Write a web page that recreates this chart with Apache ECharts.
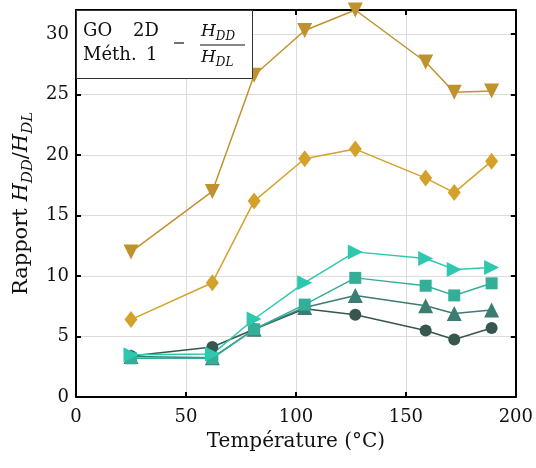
<!DOCTYPE html>
<html>
<head>
<meta charset="utf-8">
<script src="https://cdn.jsdelivr.net/npm/echarts@6/dist/echarts.min.js"></script>
<style>html,body{margin:0;padding:0;background:#fff}#c{width:536px;height:468px}</style>
</head>
<body>
<div id="c"></div>
<script>
const temps = [25, 62, 81, 104, 127, 159, 172, 189];
const seriesDownTri = [12.0, 17.0, 26.6, 30.3, 32.0, 27.7, 25.2, 25.3];
const seriesDiamond = [6.4, 9.45, 16.2, 19.7, 20.5, 18.1, 16.9, 19.5];
const seriesCircle = [3.4, 4.13, 5.6, 7.3, 6.8, 5.5, 4.75, 5.7];
const seriesUpTri = [3.35, 3.25, 5.6, 7.4, 8.4, 7.55, 6.9, 7.2];
const seriesSquare = [3.2, 3.2, 5.6, 7.64, 9.85, 9.2, 8.4, 9.4];
const seriesRightTri = [3.5, 3.55, 6.45, 9.45, 12.0, 11.45, 10.55, 10.7];
const xTicks = [0, 50, 100, 150, 200];
const yTicks = [0, 5, 10, 15, 20, 25, 30];

const FONT = 'DejaVu Serif';
const TXT = '#111';
const chart = echarts.init(document.getElementById('c'), null, {renderer: 'canvas'});
const pair = arr => temps.map((t, i) => [t, arr[i]]);
function mk(name, data, color, symbol, size, rot) {
  return {
    name, type: 'line', data: pair(data), symbol, symbolSize: size, symbolRotate: rot || 0,
    lineStyle: {color, width: 1.5}, itemStyle: {color}, clip: false,
    emphasis: {disabled: true}, animation: false
  };
}
const axisCommon = () => ({
  axisLine: {show: true, onZero: false, lineStyle: {color: '#000', width: 2}},
  axisTick: {show: true, inside: true, length: 5, lineStyle: {color: '#000', width: 2}},
});
const subRich = (size) => ({
  n: {fontFamily: FONT, fontSize: size, color: TXT, lineHeight: 28, verticalAlign: 'middle'},
  i: {fontFamily: FONT, fontSize: size, fontStyle: 'italic', color: TXT, lineHeight: 28, verticalAlign: 'middle'},
  s: {fontFamily: FONT, fontSize: Math.round(size * 0.72), fontStyle: 'italic', color: TXT, lineHeight: 28, verticalAlign: 'bottom'}
});
chart.setOption({
  animation: false,
  grid: {left: 76, right: 20, top: 10, bottom: 71, show: false},
  xAxis: [
    Object.assign({
      type: 'value', min: 0, max: 200, interval: 50,
      name: 'Température (°C)', nameLocation: 'middle', nameGap: 35,
      nameTextStyle: {fontFamily: FONT, fontSize: 20, color: TXT},
      axisLabel: {fontFamily: FONT, fontSize: 18, color: TXT, margin: 11,
        formatter: v => xTicks.includes(v) ? String(v) : ''},
      splitLine: {show: true, lineStyle: {color: '#dcdcdc', width: 1}}
    }, axisCommon()),
    Object.assign({type: 'value', min: 0, max: 200, interval: 50, position: 'top',
      axisLabel: {show: false}, splitLine: {show: false}}, axisCommon())
  ],
  yAxis: [
    Object.assign({
      type: 'value', min: 0, max: 32, interval: 5,
      name: '{n|Rapport }{i|H}{s|DD}{n|/}{i|H}{s|DL}', nameLocation: 'middle', nameGap: 38, nameRotate: 90,
      nameTextStyle: {fontFamily: FONT, fontSize: 21, color: TXT, rich: subRich(21)},
      axisLabel: {fontFamily: FONT, fontSize: 18, color: TXT, margin: 7, showMaxLabel: false,
        formatter: v => yTicks.includes(v) ? String(v) : ''},
      splitLine: {show: true, lineStyle: {color: '#dcdcdc', width: 1}}
    }, axisCommon()),
    Object.assign({type: 'value', min: 0, max: 32, interval: 5, position: 'right',
      axisLabel: {show: false}, splitLine: {show: false}}, axisCommon())
  ],
  series: [
    mk('down', seriesDownTri, '#BF922F', 'triangle', 15, 180),
    mk('diamond', seriesDiamond, '#D4A22A', 'diamond', [13, 17]),
    mk('circle', seriesCircle, '#37564F', 'circle', 12),
    mk('up', seriesUpTri, '#3B7D73', 'triangle', 15),
    mk('square', seriesSquare, '#35AE98', 'rect', 12),
    mk('right', seriesRightTri, '#2EC8AE', 'triangle', 15, -90)
  ],
  graphic: [
    {type: 'rect', z: 100, shape: {x: 76.5, y: 10.5, width: 176, height: 68},
      style: {fill: '#fff', stroke: '#333', lineWidth: 1}},
    {type: 'text', z: 101, x: 83, y: 22, style: {text: 'GO', font: '18px "DejaVu Serif"', fill: TXT}},
    {type: 'text', z: 101, x: 133, y: 22, style: {text: '2D', font: '18px "DejaVu Serif"', fill: TXT}},
    {type: 'text', z: 101, x: 83, y: 46, style: {text: 'Méth.', font: '18px "DejaVu Serif"', fill: TXT}},
    {type: 'text', z: 101, x: 146, y: 46, style: {text: '1', font: '18px "DejaVu Serif"', fill: TXT}},
    {type: 'line', z: 101, shape: {x1: 174, y1: 43, x2: 184, y2: 43}, style: {stroke: TXT, lineWidth: 1.2}},
    {type: 'text', z: 101, x: 201, y: 21, style: {text: '{i|H}{s|DD}',
      rich: {i: {font: 'italic 17px "DejaVu Serif"', fill: TXT, lineHeight: 22, verticalAlign: 'middle'},
             s: {font: 'italic 12px "DejaVu Serif"', fill: TXT, lineHeight: 22, verticalAlign: 'bottom'}}}},
    {type: 'line', z: 101, shape: {x1: 200, y1: 45, x2: 245, y2: 45}, style: {stroke: TXT, lineWidth: 1.2}},
    {type: 'text', z: 101, x: 201, y: 47, style: {text: '{i|H}{s|DL}',
      rich: {i: {font: 'italic 17px "DejaVu Serif"', fill: TXT, lineHeight: 22, verticalAlign: 'middle'},
             s: {font: 'italic 12px "DejaVu Serif"', fill: TXT, lineHeight: 22, verticalAlign: 'bottom'}}}}
  ]
});
</script>
</body>
</html>
